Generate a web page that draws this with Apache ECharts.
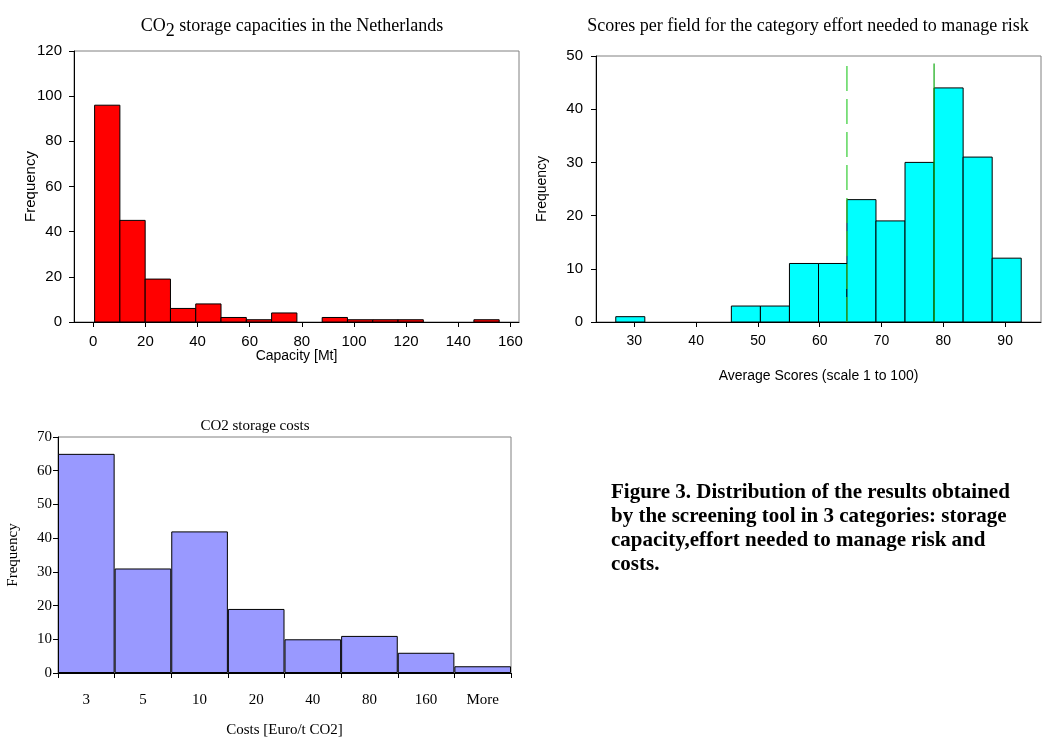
<!DOCTYPE html>
<html>
<head>
<meta charset="utf-8">
<script src="https://cdn.jsdelivr.net/npm/echarts@6/dist/echarts.min.js"></script>
<style>
html,body{margin:0;padding:0;background:#fff;}
#main{width:1045px;height:742px;}
</style>
</head>
<body>
<div id="main"></div>
<script>
// ---- Chart 1: CO2 storage capacities ----
const capEdges = [0.5, 10.2, 19.9, 29.6, 39.3, 49.0, 58.7, 68.4, 78.1, 87.8, 97.5, 107.2, 116.9, 126.6, 136.3, 146.0, 155.7];
const capCounts = [96, 45, 19, 6, 8, 2, 1, 4, 0, 2, 1, 1, 1, 0, 0, 1];
const capTicks = [0, 20, 40, 60, 80, 100, 120, 140, 160];

// ---- Chart 2: Scores for effort needed to manage risk ----
const scoreEdges = [27.0, 31.7, 36.4, 41.0, 45.7, 50.4, 55.1, 59.8, 64.4, 69.1, 73.8, 78.5, 83.2, 87.9, 92.6];
const scoreCounts = [1, 0, 0, 0, 3, 3, 11, 11, 23, 19, 30, 44, 31, 12];
const scoreTicks = [30, 40, 50, 60, 70, 80, 90];
const scoreLineDashed = [[64.4, 0], [64.4, 48.6]];
const scoreLineSolid = [[78.5, 0], [78.5, 48.6]];

// ---- Chart 3: CO2 storage costs ----
const costCategories = ['3', '5', '10', '20', '40', '80', '160', 'More'];
const costCounts = [65, 31, 42, 19, 10, 11, 6, 2];

function binsOf(edges, counts) {
  const out = [];
  for (let i = 0; i < counts.length; i++) out.push([edges[i], edges[i + 1], counts[i]]);
  return out;
}

function histItem(params, api) {
  const y = api.value(2);
  if (!y) return null;
  const p0 = api.coord([api.value(0), y]);
  const p1 = api.coord([api.value(1), 0]);
  return {
    type: 'rect',
    shape: { x: p0[0], y: p0[1], width: p1[0] - p0[0], height: p1[1] - p0[1] },
    style: { fill: api.visual('color'), stroke: '#000', lineWidth: 1 }
  };
}

const sans = 'Liberation Sans, Arial, sans-serif';
const serif = 'Liberation Serif, Times New Roman, serif';

const chart = echarts.init(document.getElementById('main'));
chart.setOption({
  animation: false,
  backgroundColor: '#fff',
  title: [
    {
      text: '{a|CO}{s|2}{a| storage capacities in the Netherlands}',
      left: 287, top: 12, textAlign: 'center',
      textStyle: {
        fontWeight: 'normal',
        rich: {
          a: { fontFamily: serif, fontSize: 18, fontWeight: 'normal', color: '#000', verticalAlign: 'top', lineHeight: 19 },
          s: { fontFamily: serif, fontSize: 18, fontWeight: 'normal', color: '#000', verticalAlign: 'top', lineHeight: 19, padding: [5, 0, 0, 0] }
        }
      }
    },
    {
      text: 'Scores per field for the category effort needed to manage risk',
      left: 803, top: 12, textAlign: 'center',
      textStyle: { fontFamily: serif, fontSize: 18, fontWeight: 'normal', color: '#000' }
    },
    {
      text: 'CO2 storage costs',
      left: 250, top: 414, textAlign: 'center',
      textStyle: { fontFamily: serif, fontSize: 15, fontWeight: 'normal', color: '#000' }
    },
    {
      text: 'Figure 3. Distribution of the results obtained\nby the screening tool in 3 categories: storage\ncapacity,effort needed to manage risk and\ncosts.',
      left: 606, top: 476,
      textStyle: { fontFamily: serif, fontSize: 21, fontWeight: 'bold', color: '#000', lineHeight: 24 }
    }
  ],
  grid: [
    { left: 74, top: 51, width: 445, height: 271, show: true, borderColor: '#808080', borderWidth: 1, backgroundColor: 'transparent' },
    { left: 596, top: 56, width: 445, height: 266, show: true, borderColor: '#808080', borderWidth: 1, backgroundColor: 'transparent' },
    { left: 58, top: 437, width: 453, height: 236, show: true, borderColor: '#808080', borderWidth: 1, backgroundColor: 'transparent' }
  ],
  xAxis: [
    {
      gridIndex: 0, type: 'value', min: -7.4, max: 163.3,
      name: 'Capacity [Mt]', nameLocation: 'middle', nameGap: 27, nameMoveOverlap: false,
      nameTextStyle: { fontFamily: sans, fontSize: 14, color: '#000' },
      axisLine: { show: true, onZero: false, lineStyle: { color: '#000', width: 1 } },
      axisTick: { show: true, length: 5, customValues: capTicks, lineStyle: { color: '#000' } },
      axisLabel: { customValues: capTicks, margin: 12, fontFamily: sans, fontSize: 15, color: '#000' },
      splitLine: { show: false }
    },
    {
      gridIndex: 1, type: 'value', min: 23.8, max: 95.8,
      name: 'Average Scores (scale 1 to 100)', nameLocation: 'middle', nameGap: 47, nameMoveOverlap: false,
      nameTextStyle: { fontFamily: sans, fontSize: 14, color: '#000' },
      axisLine: { show: true, onZero: false, lineStyle: { color: '#000', width: 1 } },
      axisTick: { show: true, length: 5, customValues: scoreTicks, lineStyle: { color: '#000' } },
      axisLabel: { customValues: scoreTicks, margin: 12, fontFamily: sans, fontSize: 14, color: '#000' },
      splitLine: { show: false }
    },
    {
      gridIndex: 2, type: 'category', data: costCategories, boundaryGap: true,
      name: 'Costs [Euro/t CO2]', nameLocation: 'middle', nameGap: 50, nameMoveOverlap: false,
      nameTextStyle: { fontFamily: serif, fontSize: 15, color: '#000' },
      axisLine: { show: true, onZero: false, lineStyle: { color: '#000', width: 1 } },
      axisTick: { show: true, length: 5, interval: 0, alignWithLabel: false, lineStyle: { color: '#000' } },
      axisLabel: { interval: 0, margin: 20, fontFamily: serif, fontSize: 15, color: '#000' },
      splitLine: { show: false }
    }
  ],
  yAxis: [
    {
      gridIndex: 0, type: 'value', min: 0, max: 120, interval: 20,
      name: 'Frequency', nameLocation: 'middle', nameGap: 36, nameRotate: 90, nameMoveOverlap: false,
      nameTextStyle: { fontFamily: sans, fontSize: 15, color: '#000' },
      axisLine: { show: true, onZero: false, lineStyle: { color: '#000', width: 1 } },
      axisTick: { show: true, length: 5, lineStyle: { color: '#000' } },
      axisLabel: { margin: 12, fontFamily: sans, fontSize: 15, color: '#000' },
      splitLine: { show: false }
    },
    {
      gridIndex: 1, type: 'value', min: 0, max: 50, interval: 10,
      name: 'Frequency', nameLocation: 'middle', nameGap: 47, nameRotate: 90, nameMoveOverlap: false,
      nameTextStyle: { fontFamily: sans, fontSize: 14, color: '#000' },
      axisLine: { show: true, onZero: false, lineStyle: { color: '#000', width: 1 } },
      axisTick: { show: true, length: 5, lineStyle: { color: '#000' } },
      axisLabel: { margin: 13, fontFamily: sans, fontSize: 15, color: '#000' },
      splitLine: { show: false }
    },
    {
      gridIndex: 2, type: 'value', min: 0, max: 70, interval: 10,
      name: 'Frequency', nameLocation: 'middle', nameGap: 37, nameRotate: 90, nameMoveOverlap: false,
      nameTextStyle: { fontFamily: serif, fontSize: 15, color: '#000' },
      axisLine: { show: true, onZero: false, lineStyle: { color: '#000', width: 1 } },
      axisTick: { show: true, length: 5, lineStyle: { color: '#000' } },
      axisLabel: { margin: 6, fontFamily: serif, fontSize: 15, color: '#000' },
      splitLine: { show: false }
    }
  ],
  series: [
    {
      type: 'custom', xAxisIndex: 0, yAxisIndex: 0,
      itemStyle: { color: '#FF0000' },
      renderItem: histItem,
      encode: { x: [0, 1], y: 2 },
      data: binsOf(capEdges, capCounts)
    },
    {
      type: 'custom', xAxisIndex: 1, yAxisIndex: 1,
      itemStyle: { color: '#00FFFF' },
      renderItem: histItem,
      encode: { x: [0, 1], y: 2 },
      data: binsOf(scoreEdges, scoreCounts)
    },
    {
      type: 'line', xAxisIndex: 1, yAxisIndex: 1, symbol: 'none', z: 5,
      lineStyle: { color: '#33CC33', width: 1.2, type: [25, 8] },
      data: scoreLineDashed
    },
    {
      type: 'line', xAxisIndex: 1, yAxisIndex: 1, symbol: 'none', z: 5,
      lineStyle: { color: '#11AA11', width: 1.2, type: 'solid' },
      data: scoreLineSolid
    },
    {
      type: 'bar', xAxisIndex: 2, yAxisIndex: 2,
      barWidth: '100%', barCategoryGap: 0,
      itemStyle: { color: '#9999FF', borderColor: '#000', borderWidth: 1 },
      data: costCounts
    }
  ]
});
</script>
</body>
</html>
